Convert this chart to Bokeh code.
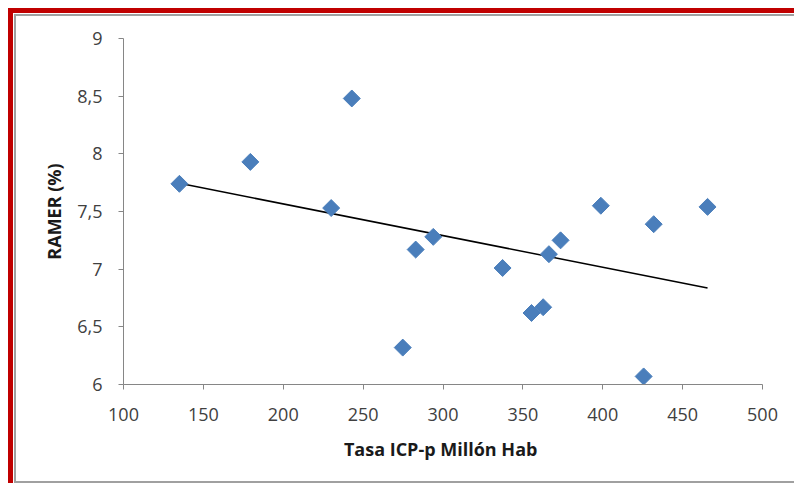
import numpy as np
from bokeh.plotting import figure
from bokeh.models import ColumnDataSource, FixedTicker, Range1d
from bokeh.embed import file_html
from bokeh.resources import INLINE

# Data
tasa = [135.0, 179.4, 230.0, 242.9, 274.8, 282.9, 293.9, 337.3,
        355.4, 362.7, 366.3, 373.6, 398.8, 431.9, 465.6, 425.6]
ramer = [7.74, 7.93, 7.53, 8.48, 6.32, 7.17, 7.28, 7.01,
         6.62, 6.67, 7.13, 7.25, 7.55, 7.39, 7.54, 6.07]
x_ticks = [100, 150, 200, 250, 300, 350, 400, 450, 500]
y_ticks = [6, 6.5, 7, 7.5, 8, 8.5, 9]
y_tick_labels = ["6", "6,5", "7", "7,5", "8", "8,5", "9"]
x_title = "Tasa ICP-p Millón  Hab"
y_title = "RAMER (%)"

FONT = "Open Sans"
BLUE = "#4a7ebb"
AXIS = "#868686"
RED = "#c00000"

src = ColumnDataSource(dict(x=tasa, y=ramer))

# linear trend line (least squares fit of the data)
slope, icpt = np.polyfit(np.array(tasa), np.array(ramer), 1)
tx = [min(tasa), max(tasa)]
ty = [slope * v + icpt for v in tx]

frame_css = {
    "margin-left": "14px",
    "margin-top": "14px",
    "border-left": "2px solid #a0a0a0",
    "border-top": "2px solid #a0a0a0",
    "border-bottom": "2px solid #a0a0a0",
    "box-shadow": ("-1px -1px 0 0 #ffffff, 0 -1px 0 0 #ffffff, "
                   "-1px 0 0 0 #ffffff, -6px -6px 0 0 " + RED + ", "
                   "0 -6px 0 0 " + RED + ", -6px 0 0 0 " + RED),
}

p = figure(width=780, height=469, output_backend="svg", toolbar_location=None,
           x_range=Range1d(100, 500), y_range=Range1d(6, 9),
           min_border_left=107, min_border_right=34,
           min_border_top=22, min_border_bottom=101,
           styles=frame_css)
p.outline_line_color = None
p.grid.visible = False
p.background_fill_color = "white"
p.border_fill_color = "white"

p.line(tx, ty, line_color="black", line_width=1.5)
p.scatter("x", "y", source=src, marker="square", angle=np.pi / 4, size=12,
          fill_color=BLUE, line_color=BLUE)

for ax in (p.xaxis[0], p.yaxis[0]):
    ax.axis_line_color = AXIS
    ax.major_tick_line_color = AXIS
    ax.major_tick_in = 0
    ax.major_tick_out = 5
    ax.minor_tick_line_color = None
    ax.major_label_text_font = FONT
    ax.major_label_text_font_size = "18px"
    ax.major_label_text_color = "#404040"
    ax.axis_label_text_font = FONT
    ax.axis_label_text_font_size = "18px"
    ax.axis_label_text_font_style = "bold"
    ax.axis_label_text_color = "#1a1a1a"

p.xaxis.ticker = FixedTicker(ticks=x_ticks)
p.yaxis.ticker = FixedTicker(ticks=y_ticks)
p.yaxis.major_label_overrides = {t: l for t, l in zip(y_ticks, y_tick_labels)}
p.xaxis.axis_label = x_title
p.yaxis.axis_label = y_title
p.xaxis.major_label_standoff = 18
p.yaxis.major_label_standoff = 16
p.xaxis.axis_label_standoff = 13
p.yaxis.axis_label_standoff = 8

open("out.html", "w").write(file_html(p, INLINE))
